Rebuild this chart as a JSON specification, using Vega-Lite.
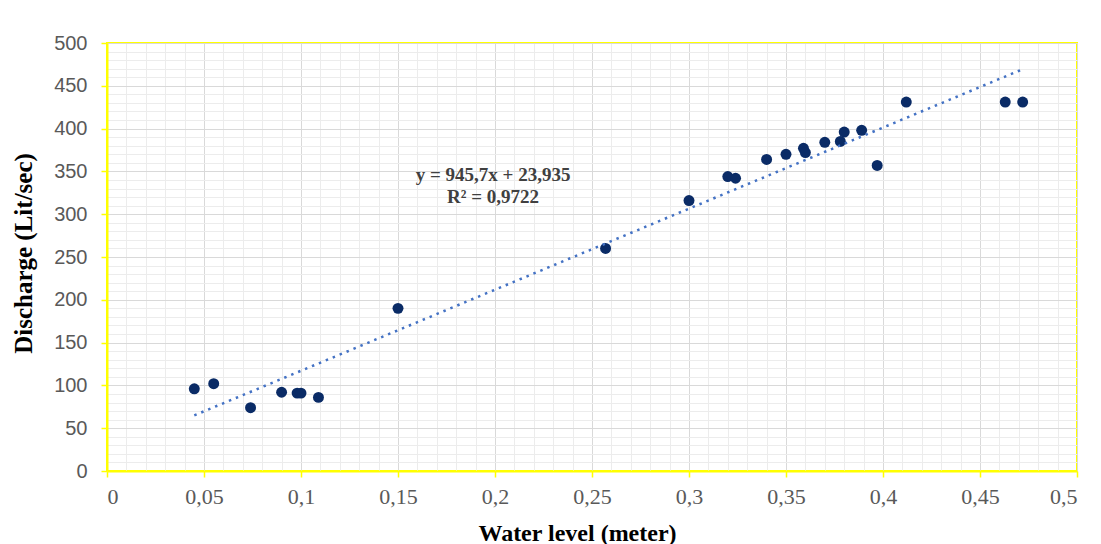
{
  "$schema": "https://vega.github.io/schema/vega-lite/v6.json",
  "autosize": "none",
  "width": 970,
  "height": 428,
  "padding": {"left": 107, "top": 43, "right": 24, "bottom": 73},
  "background": "white",
  "config": {
    "view": {"stroke": "#ffff00", "strokeWidth": 2}
  },
  "data": {
    "values": [
      {"x": 0.045, "y": 96},
      {"x": 0.055, "y": 102},
      {"x": 0.074, "y": 74},
      {"x": 0.090, "y": 92},
      {"x": 0.098, "y": 91},
      {"x": 0.100, "y": 91},
      {"x": 0.109, "y": 86},
      {"x": 0.150, "y": 190},
      {"x": 0.257, "y": 260},
      {"x": 0.300, "y": 316},
      {"x": 0.320, "y": 344},
      {"x": 0.324, "y": 342},
      {"x": 0.340, "y": 364},
      {"x": 0.350, "y": 370},
      {"x": 0.359, "y": 377},
      {"x": 0.360, "y": 372},
      {"x": 0.370, "y": 384},
      {"x": 0.378, "y": 385},
      {"x": 0.380, "y": 396},
      {"x": 0.389, "y": 398},
      {"x": 0.397, "y": 357},
      {"x": 0.412, "y": 431},
      {"x": 0.463, "y": 431},
      {"x": 0.472, "y": 431}
    ]
  },
  "resolve": {"axis": {"x": "independent", "y": "independent"}},
  "layer": [
    {
      "mark": {"type": "point", "opacity": 0},
      "encoding": {
        "x": {
          "field": "x", "type": "quantitative",
          "scale": {"domain": [0, 0.5], "nice": false, "zero": true},
          "axis": {
            "orient": "top", "title": null, "labels": false, "ticks": false, "domain": false,
            "grid": true, "gridColor": "#ececec", "gridWidth": 1,
            "values": [0,0.01,0.02,0.03,0.04,0.05,0.06,0.07,0.08,0.09,0.1,0.11,0.12,0.13,0.14,0.15,0.16,0.17,0.18,0.19,0.2,0.21,0.22,0.23,0.24,0.25,0.26,0.27,0.28,0.29,0.3,0.31,0.32,0.33,0.34,0.35,0.36,0.37,0.38,0.39,0.4,0.41,0.42,0.43,0.44,0.45,0.46,0.47,0.48,0.49,0.5]
          }
        },
        "y": {
          "field": "y", "type": "quantitative",
          "scale": {"domain": [0, 500], "nice": false, "zero": true},
          "axis": {
            "orient": "right", "title": null, "labels": false, "ticks": false, "domain": false,
            "grid": true, "gridColor": "#ececec", "gridWidth": 1,
            "values": [0,10,20,30,40,50,60,70,80,90,100,110,120,130,140,150,160,170,180,190,200,210,220,230,240,250,260,270,280,290,300,310,320,330,340,350,360,370,380,390,400,410,420,430,440,450,460,470,480,490,500]
          }
        }
      }
    },
    {
      "mark": {"type": "circle", "size": 120, "color": "#0a2b66", "opacity": 1},
      "encoding": {
        "x": {
          "field": "x", "type": "quantitative",
          "axis": {
            "orient": "bottom",
            "values": [0,0.05,0.1,0.15,0.2,0.25,0.3,0.35,0.4,0.45,0.5],
            "labelExpr": "replace(format(datum.value, '.2~f'), '.', ',')",
            "grid": true, "gridColor": "#d9d9d9", "gridWidth": 1,
            "domainColor": "#ffff00", "domainWidth": 2,
            "tickColor": "#ffff00", "tickSize": 6, "tickWidth": 1.5,
            "labelFont": "Liberation Serif", "labelFontSize": 22, "labelColor": "#595959", "labelPadding": 9,
            "title": "Water level (meter)",
            "titleFont": "Liberation Serif", "titleFontSize": 24, "titleFontWeight": "bold", "titleColor": "#000000",
            "titleX": 470, "titleY": 62, "titleAlign": "center", "titleBaseline": "middle"
          }
        },
        "y": {
          "field": "y", "type": "quantitative",
          "axis": {
            "orient": "left",
            "values": [0,50,100,150,200,250,300,350,400,450,500],
            "grid": true, "gridColor": "#d9d9d9", "gridWidth": 1,
            "domainColor": "#ffff00", "domainWidth": 2,
            "tickColor": "#ffff00", "tickSize": 6, "tickWidth": 1.5,
            "labelFont": "Liberation Sans", "labelFontSize": 20, "labelColor": "#595959", "labelPadding": 14,
            "title": "Discharge (Lit/sec)",
            "titleFont": "Liberation Serif", "titleFontSize": 25, "titleFontWeight": "bold", "titleColor": "#000000",
            "titleX": -84, "titleY": 210, "titleAngle": 270, "titleAlign": "center", "titleBaseline": "middle"
          }
        }
      }
    },
    {
      "transform": [{"regression": "y", "on": "x", "method": "linear"}],
      "mark": {"type": "line", "color": "#4472c4", "strokeWidth": 2.5, "strokeDash": [2.5, 5]},
      "encoding": {
        "x": {"field": "x", "type": "quantitative", "axis": null},
        "y": {"field": "y", "type": "quantitative", "axis": null}
      }
    },
    {
      "data": {"values": [{}]},
      "mark": {"type": "text", "text": "y = 945,7x + 23,935", "font": "Liberation Serif", "fontSize": 19, "fontWeight": "bold", "color": "#404040", "align": "center", "baseline": "middle"},
      "encoding": {
        "x": {"datum": 0.199, "type": "quantitative", "axis": null},
        "y": {"datum": 346, "type": "quantitative", "axis": null}
      }
    },
    {
      "data": {"values": [{}]},
      "mark": {"type": "text", "text": "R² = 0,9722", "font": "Liberation Serif", "fontSize": 19, "fontWeight": "bold", "color": "#404040", "align": "center", "baseline": "middle"},
      "encoding": {
        "x": {"datum": 0.199, "type": "quantitative", "axis": null},
        "y": {"datum": 320, "type": "quantitative", "axis": null}
      }
    }
  ]
}
